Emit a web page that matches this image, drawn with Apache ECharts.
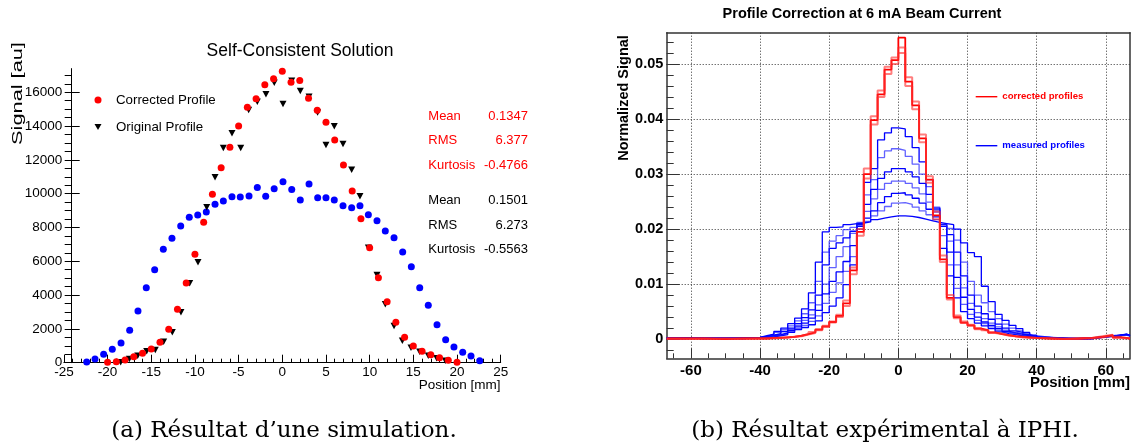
<!DOCTYPE html>
<html><head><meta charset="utf-8">
<script src="https://cdn.jsdelivr.net/npm/echarts@6/dist/echarts.min.js"></script>
<style>html,body{margin:0;padding:0;background:#fff}#c{width:1133px;height:447px}</style>
</head><body><div id="c"></div>
<script>
// ---------- Left panel data (Self-Consistent Solution) ----------
const corrX = [-20,-19,-18,-17,-16,-15,-14,-13,-12,-11,-10,-9,-8,-7,-6,-5,-4,-3,-2,-1,0,1,2,3,4,5,6,7,8,9,10,11,12,13,14,15,16,17,18,19,20];
const corrY = [20,60,160,355,560,810,1210,1980,3160,4720,6410,8310,9960,11540,12750,14000,15110,15620,16450,16800,17240,16590,16690,15650,14940,14230,13180,11700,10160,8520,6800,5030,3610,2390,1500,990,675,470,300,140,25];
const origX = [-18.50,-17.51,-16.55,-15.52,-14.54,-13.58,-12.59,-11.60,-10.60,-9.65,-8.65,-7.70,-6.75,-5.76,-4.76,-3.85,-2.86,-1.87,-0.92,0.08,1.08,2.06,3.06,4.04,5.00,5.95,6.95,7.94,8.89,9.85,10.84,11.79,12.79,13.74,14.73,15.72,16.71,17.67,18.66];
const origY = [24,219,414,674,751,1243,1799,2982,4698,5941,9195,10970,12704,13573,12704,14952,15444,15881,16568,15307,16686,16077,15740,14800,12881,13988,12940,11420,9850,6805,5189,3455,2172,1302,888,651,414,260,118];
const blueX = [-22.39,-21.44,-20.45,-19.46,-18.46,-17.47,-16.52,-15.57,-14.61,-13.62,-12.63,-11.63,-10.65,-9.68,-8.70,-7.70,-6.75,-5.76,-4.81,-3.81,-2.86,-1.90,-0.93,0.08,1.08,2.06,3.06,4.05,5.00,5.95,6.95,7.94,8.89,9.85,10.84,11.79,12.79,13.78,14.77,15.73,16.71,17.71,18.70,19.65,20.65,21.60,22.60];
const blueY = [41,219,497,793,1166,1917,3059,4438,5503,6710,7361,8089,8603,8739,8917,9372,9568,9822,9805,9864,10360,9850,10290,10710,10240,9627,10574,9763,9763,9620,9290,9171,9290,8757,8402,7793,7396,6550,5680,4438,3396,2248,1361,929,615,396,118];
const leftYLabels = [0,2000,4000,6000,8000,10000,12000,14000,16000];
const statsRed = [['Mean','0.1347'],['RMS','6.377'],['Kurtosis','-0.4766']];
const statsBlack = [['Mean','0.1501'],['RMS','6.273'],['Kurtosis','-0.5563']];

// ---------- Right panel data (Profile Correction at 6 mA) ----------
const binEdges = [-67,-62,-56,-50,-45,-40,-38,-36,-34,-32,-30,-28,-26,-24,-22,-20,-18,-16,-14,-12,-10,-8,-6,-4,-2,0,2,4,6,8,10,12,14,16,18,20,22,24,26,28,30,32,34,36,38,40,44,48,52,56,59,62,64,66,67];
const red1 = [0.0001,0.0001,0.0000,0.0001,0.0001,
 0.0001,0.0002,0.0002,0.0003,0.0004,0.0006,0.0009,0.0012,0.0017,0.0023,0.0031,0.0042,0.0065,0.0125,0.0195,0.0300,0.0398,0.0445,0.0490,0.0507,
 0.0548,0.0468,0.0425,0.0365,0.0290,0.0225,0.0145,0.0075,0.0040,0.0030,0.0025,0.0019,0.0016,0.0012,0.0009,0.0007,0.0005,0.0004,0.0003,0.0002,
 0.0001,0.0000,0.0001,0.0002,0.0004,0.0007,0.0003,0.0002,0.0001];
const red2 = [0.0001,0.0000,0.0001,0.0001,0.0001,
 0.0001,0.0001,0.0002,0.0003,0.0004,0.0005,0.0008,0.0011,0.0016,0.0022,0.0030,0.0040,0.0060,0.0118,0.0188,0.0292,0.0390,0.0440,0.0482,0.0500,
 0.0530,0.0476,0.0432,0.0372,0.0296,0.0232,0.0152,0.0080,0.0043,0.0032,0.0026,0.0020,0.0016,0.0012,0.0010,0.0007,0.0005,0.0004,0.0003,0.0002,
 0.0001,0.0001,0.0001,0.0002,0.0005,0.0008,0.0004,0.0002,0.0001];
const red3 = [0.0000,0.0001,0.0001,0.0000,0.0001,
 0.0001,0.0002,0.0003,0.0003,0.0004,0.0006,0.0009,0.0013,0.0018,0.0024,0.0032,0.0044,0.0070,0.0130,0.0200,0.0310,0.0405,0.0452,0.0495,0.0512,
 0.0520,0.0460,0.0418,0.0358,0.0284,0.0218,0.0140,0.0072,0.0038,0.0029,0.0024,0.0018,0.0015,0.0011,0.0009,0.0006,0.0005,0.0003,0.0002,0.0002,
 0.0001,0.0000,0.0000,0.0001,0.0003,0.0006,0.0002,0.0001,0.0001];
const meas1 = [0.0001,0.0002,0.0001,0.0001,0.0002,
 0.0003,0.0004,0.0006,0.0008,0.0012,0.0017,0.0021,0.0026,0.0033,0.0048,0.0060,0.0075,0.0099,0.0135,0.0210,0.0285,0.0310,0.0362,0.0375,0.0384,
 0.0382,0.0368,0.0348,0.0322,0.0290,0.0235,0.0165,0.0115,0.0075,0.0050,0.0037,0.0029,0.0024,0.0019,0.0013,0.0010,0.0008,0.0006,0.0004,0.0003,
 0.0002,0.0001,0.0000,0.0001,0.0003,0.0005,0.0006,0.0008,0.0006];
const meas2 = [0.0001,0.0001,0.0002,0.0001,0.0002,
 0.0003,0.0005,0.0007,0.0010,0.0014,0.0019,0.0025,0.0032,0.0042,0.0065,0.0085,0.0102,0.0123,0.0150,0.0200,0.0262,0.0290,0.0330,0.0342,0.0346,
 0.0343,0.0332,0.0318,0.0300,0.0277,0.0240,0.0188,0.0135,0.0092,0.0063,0.0045,0.0034,0.0028,0.0022,0.0016,0.0012,0.0009,0.0007,0.0005,0.0003,
 0.0002,0.0001,0.0001,0.0001,0.0004,0.0005,0.0007,0.0007,0.0005];
const meas3 = [0.0002,0.0001,0.0001,0.0002,0.0002,
 0.0004,0.0006,0.0008,0.0011,0.0016,0.0022,0.0029,0.0038,0.0052,0.0082,0.0105,0.0122,0.0141,0.0170,0.0205,0.0245,0.0272,0.0292,0.0304,0.0310,
 0.0310,0.0304,0.0295,0.0283,0.0263,0.0238,0.0205,0.0158,0.0112,0.0076,0.0054,0.0040,0.0031,0.0025,0.0019,0.0014,0.0011,0.0009,0.0006,0.0004,
 0.0002,0.0001,0.0000,0.0001,0.0003,0.0006,0.0006,0.0009,0.0006];
const meas4 = [0.0001,0.0002,0.0001,0.0001,0.0003,
 0.0004,0.0006,0.0009,0.0013,0.0018,0.0025,0.0034,0.0044,0.0062,0.0100,0.0130,0.0150,0.0168,0.0192,0.0212,0.0232,0.0255,0.0272,0.0283,0.0287,
 0.0287,0.0283,0.0275,0.0264,0.0249,0.0231,0.0208,0.0178,0.0135,0.0093,0.0065,0.0048,0.0037,0.0029,0.0022,0.0016,0.0012,0.0010,0.0007,0.0004,
 0.0002,0.0001,0.0001,0.0002,0.0004,0.0005,0.0007,0.0008,0.0007];
const meas5 = [0.0002,0.0001,0.0002,0.0001,0.0003,
 0.0005,0.0007,0.0010,0.0014,0.0020,0.0028,0.0039,0.0053,0.0080,0.0135,0.0165,0.0175,0.0184,0.0196,0.0208,0.0220,0.0233,0.0248,0.0259,0.0265,
 0.0266,0.0262,0.0256,0.0247,0.0236,0.0222,0.0208,0.0190,0.0158,0.0115,0.0080,0.0060,0.0046,0.0036,0.0027,0.0020,0.0015,0.0012,0.0008,0.0005,
 0.0003,0.0001,0.0000,0.0001,0.0003,0.0006,0.0006,0.0008,0.0006];
const meas6 = [0.0001,0.0002,0.0001,0.0002,0.0003,
 0.0005,0.0008,0.0012,0.0017,0.0024,0.0033,0.0046,0.0066,0.0105,0.0158,0.0178,0.0188,0.0199,0.0203,0.0207,0.0214,0.0224,0.0233,0.0241,0.0247,
 0.0248,0.0245,0.0240,0.0233,0.0226,0.0217,0.0209,0.0201,0.0180,0.0140,0.0105,0.0080,0.0066,0.0050,0.0037,0.0027,0.0020,0.0015,0.0010,0.0006,
 0.0003,0.0001,0.0001,0.0002,0.0004,0.0005,0.0007,0.0007,0.0007];
const meas7 = [0.0002,0.0001,0.0002,0.0002,0.0003,
 0.0006,0.0009,0.0014,0.0020,0.0028,0.0038,0.0055,0.0084,0.0140,0.0195,0.0203,0.0204,0.0208,0.0210,0.0211,0.0213,0.0217,0.0220,0.0222,0.0224,
 0.0224,0.0223,0.0221,0.0218,0.0215,0.0212,0.0210,0.0208,0.0200,0.0175,0.0157,0.0150,0.0096,0.0068,0.0045,0.0034,0.0025,0.0019,0.0012,0.0007,
 0.0003,0.0002,0.0001,0.0001,0.0004,0.0006,0.0007,0.0009,0.0007];
const rightXTicks = [-60,-40,-20,0,20,40,60];
const rightYTicks = [0,0.01,0.02,0.03,0.04,0.05];

// ---------- helpers ----------
const SANS = '"Liberation Sans", Arial, Helvetica, sans-serif';
const SERIF = '"DejaVu Serif", serif';
const zip = (xs, ys) => xs.map((x, i) => [x, ys[i]]);
const steps = vals => binEdges.map((e, i) => [e, vals[Math.min(i, vals.length - 1)]]);
const range = (a, b, s) => { const r = []; for (let v = a; v <= b + 1e-9; v += s) r.push(+v.toFixed(6)); return r; };
const leftYMinor = range(0, 17000, 500);
const rightXMinor = range(-65, 65, 5);
const rightYMinor = range(-0.002, 0.054, 0.002);
const plain = v => String(v);

const chart = echarts.init(document.getElementById('c'), null, {renderer: 'canvas'});

const L = {left: 63.9, top: 68.6, width: 436.8, height: 294.1};
const R = {left: 666.7, top: 32.7, width: 463.3, height: 325.6};
const frameCol = '#333';
const dotted = {color: '#333', width: 1, type: [1, 2]};

const redSeries = [red1, red2, red3].map((v, i) => ({
  type: 'line', name: 'corrected profiles', xAxisIndex: 1, yAxisIndex: 2,
  step: 'end', symbol: 'none', z: 5,
  data: steps(v),
  lineStyle: {color: i === 0 ? '#ff0000' : 'rgba(255,40,40,0.6)', width: i === 0 ? 1.8 : 2},
  itemStyle: {color: '#ff0000'}
}));
const blueCols = ['#0000ff', 'rgba(30,30,255,0.7)', '#0000ff', 'rgba(30,30,255,0.7)', '#0000ff', 'rgba(30,30,255,0.7)', '#0000ff'];
const blueSeries = [meas1, meas2, meas3, meas4, meas5, meas6, meas7].map((v, i) => ({
  type: 'line', name: 'measured profiles', xAxisIndex: 1, yAxisIndex: 2,
  step: 'end', symbol: 'none', z: 4,
  data: steps(v),
  lineStyle: {color: blueCols[i], width: 1.3},
  itemStyle: {color: '#0000ff'}
}));

const txt = (x, y, text, font, fill, align, extra) => Object.assign({
  type: 'text', x, y, silent: true,
  style: {text, font, fill, align: align || 'left', verticalAlign: 'middle'}
}, extra || {});

const graphics = [
  txt(300, 50.7, 'Self-Consistent Solution', '17.5px ' + SANS, '#000', 'center'),
  txt(18, 93.5, 'Signal [au]', '14.5px ' + SANS, '#000', 'center', {rotation: Math.PI / 2, scaleX: 1.5}),
  txt(500.5, 385, 'Position [mm]', '13.5px ' + SANS, '#000', 'right'),
  txt(862, 14, 'Profile Correction at 6 mA Beam Current', 'bold 14.5px ' + SANS, '#000', 'center'),
  txt(624, 98, 'Normalized Signal', 'bold 14.5px ' + SANS, '#000', 'center', {rotation: Math.PI / 2}),
  txt(1130, 383, 'Position [mm]', 'bold 15px ' + SANS, '#000', 'right'),
  txt(284, 431, '(a) Résultat d\u2019une simulation.', '23px ' + SERIF, '#000', 'center'),
  txt(885, 431, '(b) Résultat expérimental à IPHI.', '23px ' + SERIF, '#000', 'center')
];
statsRed.forEach((s, i) => {
  graphics.push(txt(428.3, 116 + i * 24.7, s[0], '13px ' + SANS, '#ff0000', 'left'));
  graphics.push(txt(528, 116 + i * 24.7, s[1], '13px ' + SANS, '#ff0000', 'right'));
});
statsBlack.forEach((s, i) => {
  graphics.push(txt(428.3, 200.5 + i * 24.5, s[0], '13px ' + SANS, '#000', 'left'));
  graphics.push(txt(528, 200.5 + i * 24.5, s[1], '13px ' + SANS, '#000', 'right'));
});

const hiddenLine = {show: false, onZero: false};
const noAxisBits = {axisLine: hiddenLine, axisTick: {show: false}, axisLabel: {show: false}, splitLine: {show: false}};

chart.setOption({
  animation: false,
  backgroundColor: '#fff',
  textStyle: {fontFamily: SANS},
  grid: [
    Object.assign({outerBoundsMode: 'none', containLabel: false}, L),
    Object.assign({outerBoundsMode: 'none', containLabel: false}, R)
  ],
  legend: [
    {
      data: [{name: 'Corrected Profile', icon: 'circle'}, {name: 'Original Profile', icon: 'path://M0,0L10,0L5,8.66Z'}],
      orient: 'vertical', left: 94.5, top: 93, padding: 0, itemWidth: 7, itemHeight: 7, itemGap: 13,
      selectedMode: false,
      textStyle: {fontFamily: SANS, fontSize: 13.3, color: '#000', lineHeight: 14, padding: [0, 0, 0, 9.5]}
    },
    {
      data: [{name: 'corrected profiles', icon: 'rect', textStyle: {color: '#ff0000'}},
             {name: 'measured profiles', icon: 'rect', textStyle: {color: '#0000ff'}}],
      orient: 'vertical', left: 975.7, top: 90.7, padding: 0, itemWidth: 21.6, itemHeight: 1.4, itemGap: 37,
      selectedMode: false,
      textStyle: {fontFamily: SANS, fontSize: 9.6, fontWeight: 'bold', lineHeight: 12}
    }
  ],
  xAxis: [
    {gridIndex: 0, type: 'value', position: 'bottom', min: -25, max: 25, interval: 5,
      axisLine: {show: true, onZero: false, lineStyle: {color: '#000', width: 1}},
      axisTick: {show: true, inside: true, length: 8, lineStyle: {color: '#000'}},
      minorTick: {show: true, splitNumber: 5, length: 4, lineStyle: {color: '#000'}},
      axisLabel: {fontFamily: SANS, fontSize: 13.5, color: '#000', margin: 3, formatter: plain},
      splitLine: {show: false}},
    {gridIndex: 1, type: 'value', position: 'bottom', min: -67, max: 67,
      axisLine: {show: true, onZero: false, lineStyle: {color: frameCol, width: 1.5}},
      axisTick: {show: true, inside: true, length: 10, customValues: rightXTicks, lineStyle: {color: frameCol}},
      axisLabel: {customValues: rightXTicks, fontFamily: SANS, fontWeight: 'bold', fontSize: 15, color: '#000', margin: 5, formatter: plain},
      splitLine: {show: true, lineStyle: dotted}},
    Object.assign({gridIndex: 1, type: 'value', position: 'bottom', min: -67, max: 67}, noAxisBits, {
      axisTick: {show: true, inside: true, length: 5, customValues: rightXMinor, lineStyle: {color: frameCol}}}),
    Object.assign({gridIndex: 1, type: 'value', position: 'top', min: -67, max: 67}, noAxisBits, {
      axisLine: {show: true, onZero: false, lineStyle: {color: frameCol, width: 1.5}}})
  ],
  yAxis: [
    {gridIndex: 0, type: 'value', position: 'left', min: 0, max: 17400, offset: -7.8,
      axisLine: {show: true, onZero: false, lineStyle: {color: '#000', width: 1}},
      axisTick: {show: true, inside: false, length: 7, customValues: leftYMinor, lineStyle: {color: '#000'}},
      axisLabel: {customValues: leftYLabels, fontFamily: SANS, fontSize: 13.5, color: '#000', margin: 9.5, formatter: plain},
      splitLine: {show: false}},
    Object.assign({gridIndex: 0, type: 'value', position: 'left', min: 0, max: 17400, offset: -7.8}, noAxisBits, {
      axisTick: {show: true, inside: true, length: 8, customValues: leftYLabels, lineStyle: {color: '#000'}}}),
    {gridIndex: 1, type: 'value', position: 'left', min: -0.0035, max: 0.0557,
      axisLine: {show: true, onZero: false, lineStyle: {color: frameCol, width: 1.5}},
      axisTick: {show: true, inside: true, length: 13, customValues: rightYTicks, lineStyle: {color: frameCol}},
      axisLabel: {customValues: rightYTicks, fontFamily: SANS, fontWeight: 'bold', fontSize: 14.5, color: '#000', margin: 3.4, formatter: plain},
      splitLine: {show: true, lineStyle: dotted}},
    Object.assign({gridIndex: 1, type: 'value', position: 'left', min: -0.0035, max: 0.0557}, noAxisBits, {
      axisTick: {show: true, inside: true, length: 7, customValues: rightYMinor, lineStyle: {color: frameCol}}}),
    Object.assign({gridIndex: 1, type: 'value', position: 'right', min: -0.0035, max: 0.0557}, noAxisBits, {
      axisLine: {show: true, onZero: false, lineStyle: {color: frameCol, width: 1.5}}})
  ],
  series: [
    {type: 'scatter', name: 'Simulated', xAxisIndex: 0, yAxisIndex: 0, symbol: 'circle', symbolSize: 7,
      data: zip(blueX, blueY), itemStyle: {color: '#0000ff', opacity: 1}, z: 3},
    {type: 'scatter', name: 'Original Profile', xAxisIndex: 0, yAxisIndex: 0,
      symbol: 'path://M0,0L10,0L5,8.66Z', symbolSize: [7, 6.5],
      data: zip(origX, origY), itemStyle: {color: '#000', opacity: 1}, z: 3},
    {type: 'scatter', name: 'Corrected Profile', xAxisIndex: 0, yAxisIndex: 0, symbol: 'circle', symbolSize: 7,
      data: zip(corrX, corrY), itemStyle: {color: '#ff0000', opacity: 1}, z: 4}
  ].concat(blueSeries, redSeries),
  graphic: graphics
});
</script></body></html>
